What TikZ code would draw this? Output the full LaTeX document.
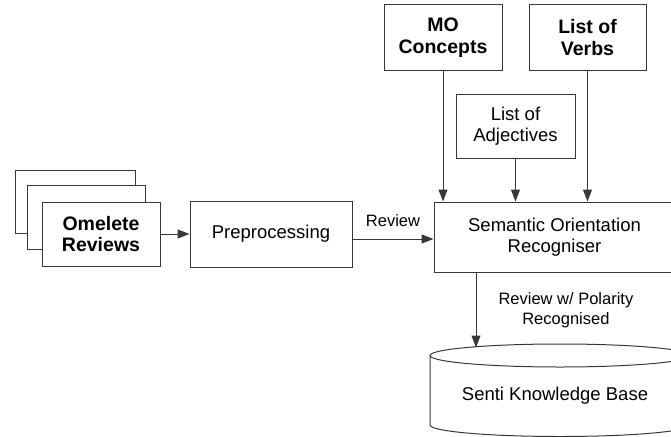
\documentclass[tikz,border=0pt]{standalone}
\usepackage{fontspec}
\setmainfont{Liberation Sans}
\usetikzlibrary{arrows.meta}
\begin{document}
\begin{tikzpicture}[x=1pt,y=-1pt,
  box/.style={draw=black!78, line width=1pt, fill=white, rectangle, inner sep=0pt, align=center, font=\fontsize{18.5}{21.5}\selectfont},
  bbox/.style={box, font=\fontsize{19.5}{21.5}\selectfont\bfseries},
  lbl/.style={inner sep=0pt, align=center, font=\fontsize{16.5}{20}\selectfont},
  conn/.style={draw=black!78, line width=1pt, -{Triangle[length=12pt,width=9pt]}},
  cyl/.style={draw=black!78, line width=1pt}]
\useasboundingbox (0,0) rectangle (671,436);
\begin{scope}
\clip (0,0) rectangle (671,436);
% stacked documents
\node[box, minimum width=120, minimum height=63] (d3) at (75,201.5) {};
\node[box, minimum width=118, minimum height=64] (d2) at (86,217) {};
\node[bbox, minimum width=118, minimum height=64] (d1) at (101,234) {Omelete\\Reviews};
% process boxes
\node[box, minimum width=162, minimum height=66] (pre) at (271,234) {Preprocessing};
\node[box, minimum width=241, minimum height=70] (sem) at (554.5,237) {Semantic Orientation\\Recogniser};
\node[bbox, minimum width=118, minimum height=65] (mo) at (443,37.5) {MO\\Concepts};
\node[bbox, minimum width=117, minimum height=65] (verbs) at (587.5,37.5) {List of\\Verbs};
\node[box, minimum width=119, minimum height=64] (adj) at (515.5,126) {List of\\Adjectives};
% knowledge base cylinder
\draw[cyl] (430,355.5) -- (430,425) arc[start angle=180, end angle=360, x radius=130pt, y radius=11.5pt] -- (690,355.5);
\draw[cyl] (560,355.5) ellipse [x radius=130pt, y radius=11.5pt];
\node[inner sep=0pt, font=\fontsize{18.5}{21.5}\selectfont] (kb) at (555,396) {Senti Knowledge Base};
\coordinate (kbtop) at (476,347.5);
% connectors
\draw[conn] (d1) -- (pre);
\coordinate (r1) at ([yshift=-5pt]pre.east);
\draw[conn] (r1) -- node[lbl, midway, above=12pt] {Review} (r1 -| sem.west);
\draw[conn] (mo.south) -- (mo.south |- sem.north);
\draw[conn] (adj.south) -- (adj.south |- sem.north);
\draw[conn] (verbs.south) -- (verbs.south |- sem.north);
\draw[conn] (sem.south -| kbtop) -- node[lbl, midway, right=22pt] {Review w/ Polarity\\Recognised} (kbtop);
\end{scope}
\end{tikzpicture}
\end{document}
